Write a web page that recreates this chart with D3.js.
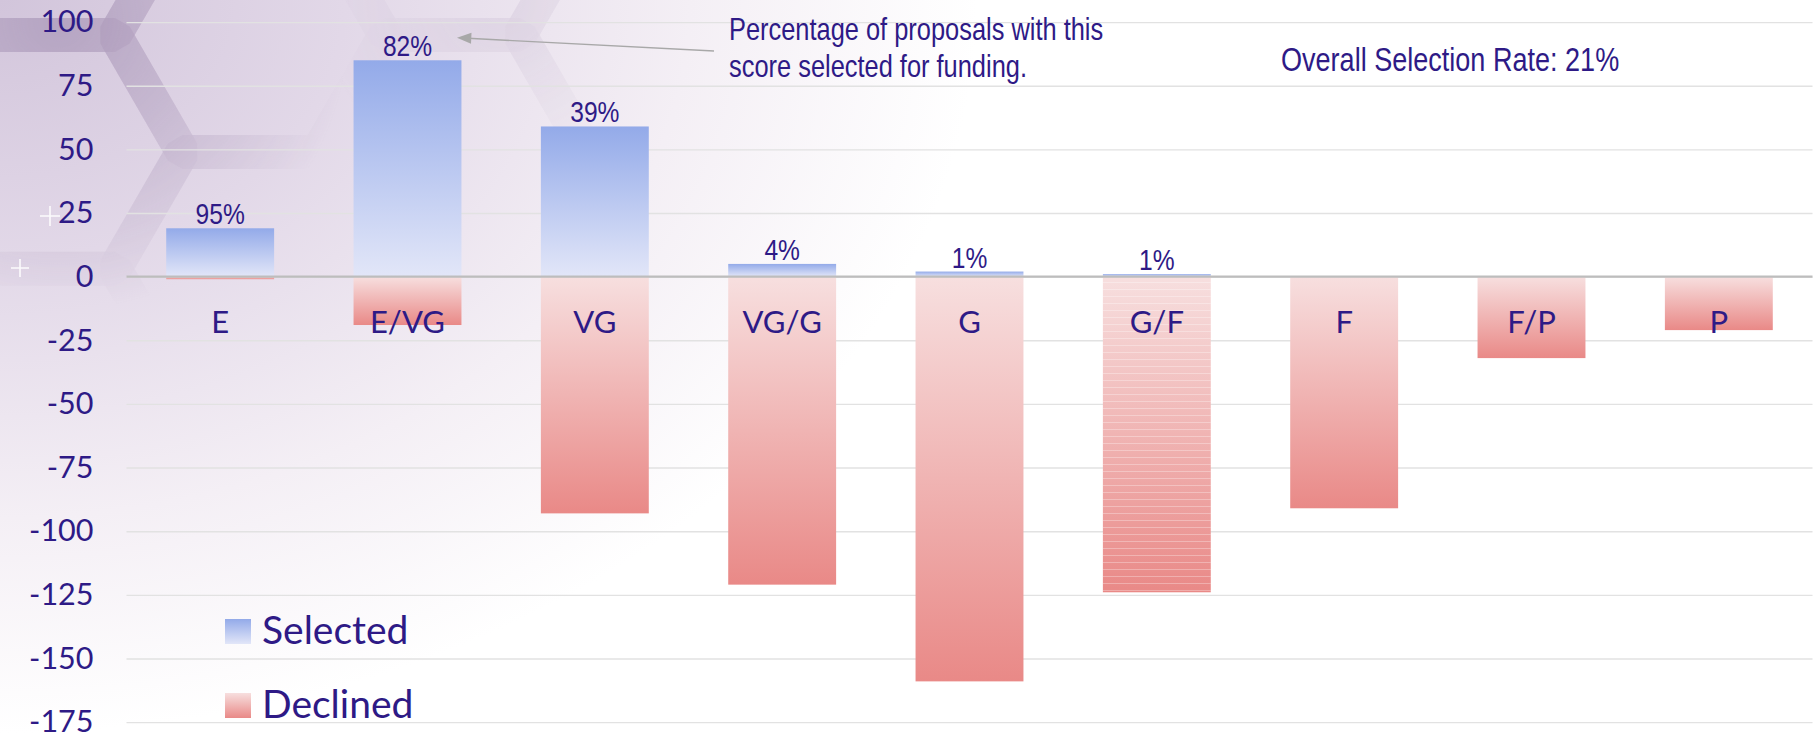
<!DOCTYPE html>
<html>
<head>
<meta charset="utf-8">
<script src="https://cdn.jsdelivr.net/npm/d3@7"></script>
<style>
  html, body { margin: 0; padding: 0; background: #ffffff; }
  svg { display: block; }
</style>
</head>
<body>
<div id="chart"></div>
<script>
// score categories and proposal counts
var categories = ["E", "E/VG", "VG", "VG/G", "G", "G/F", "F", "F/P", "P"];
var selected = [19, 85, 59, 5, 2, 1, 0, 0, 0];
var declined = [-1, -19, -93, -121, -159, -124, -91, -32, -21];
var yTicks = [100, 75, 50, 25, 0, -25, -50, -75, -100, -125, -150, -175];
var legendLabels = ["Selected", "Declined"];
var noteLines = ["Percentage of proposals with this", "score selected for funding."];
var stripedCategory = "G/F";

var W = 1814, H = 735;
var ink = "#2e1a86";
var calibri = "Lato, 'Open Sans', sans-serif";

var svg = d3.select("#chart").append("svg").attr("width", W).attr("height", H);
var defs = svg.append("defs");

// background gradient
var bg = defs.append("radialGradient").attr("id", "bg")
    .attr("gradientUnits", "userSpaceOnUse")
    .attr("cx", 0).attr("cy", 0).attr("r", 1150)
    .attr("gradientTransform", "scale(1,0.75)");
bg.append("stop").attr("offset", 0).attr("stop-color", "#d2c5db");
bg.append("stop").attr("offset", 0.3).attr("stop-color", "#e2d8e8");
bg.append("stop").attr("offset", 0.6).attr("stop-color", "#f4eff5");
bg.append("stop").attr("offset", 0.85).attr("stop-color", "#ffffff");

var fade = defs.append("radialGradient").attr("id", "fade")
    .attr("gradientUnits", "userSpaceOnUse")
    .attr("cx", 60).attr("cy", 20).attr("r", 290);
fade.append("stop").attr("offset", 0).attr("stop-color", "#fff");
fade.append("stop").attr("offset", 0.45).attr("stop-color", "#999");
fade.append("stop").attr("offset", 1).attr("stop-color", "#000");
defs.append("mask").attr("id", "hexmask")
    .append("rect").attr("width", W).attr("height", H).attr("fill", "url(#fade)");

var fade2 = defs.append("radialGradient").attr("id", "fade2")
    .attr("gradientUnits", "userSpaceOnUse")
    .attr("cx", 500).attr("cy", 0).attr("r", 180);
fade2.append("stop").attr("offset", 0).attr("stop-color", "#444");
fade2.append("stop").attr("offset", 1).attr("stop-color", "#000");
defs.append("mask").attr("id", "hexmask2")
    .append("rect").attr("width", W).attr("height", H).attr("fill", "url(#fade2)");

function barGradient(id, c0, c1) {
  var g = defs.append("linearGradient").attr("id", id)
      .attr("x1", 0).attr("y1", 0).attr("x2", 0).attr("y2", 1);
  g.append("stop").attr("offset", 0).attr("stop-color", c0);
  g.append("stop").attr("offset", 1).attr("stop-color", c1);
}
barGradient("gSel", "#93aae9", "#e2e6f8");
barGradient("gDec", "#f7dfdf", "#e98987");

var stripes = defs.append("pattern").attr("id", "stripes")
    .attr("patternUnits", "userSpaceOnUse").attr("width", 20).attr("height", 7);
stripes.append("rect").attr("y", 2).attr("width", 20).attr("height", 1)
    .attr("fill", "#ffffff").attr("opacity", 0.3);

svg.append("rect").attr("width", W).attr("height", H).attr("fill", "url(#bg)");

// honeycomb decoration in the top left corner
var side = 135, hexes = [];
for (var i = -1; i < 4; i++) {
  for (var j = -1; j < 3; j++) {
    var cx = 250 + 1.5 * side * i;
    var cy = 35 + Math.sqrt(3) * side * (j + (Math.abs(i) % 2 ? 0.5 : 0));
    hexes.push(d3.range(6).map(function (k) {
      var a = Math.PI / 3 * k;
      return [cx + side * Math.cos(a), cy + side * Math.sin(a)];
    }));
  }
}
function drawHexes(mask) {
  svg.append("g").attr("mask", "url(#" + mask + ")")
    .selectAll("path").data(hexes).join("path")
      .attr("d", function (d) { return "M" + d.join("L") + "Z"; })
      .attr("fill", "none")
      .attr("stroke", "#9c86aa")
      .attr("stroke-opacity", 0.32)
      .attr("stroke-width", 34)
      .attr("stroke-linejoin", "bevel");
}
drawHexes("hexmask");
drawHexes("hexmask2");

// little sparkles
[[20, 268, 9], [50, 216, 10]].forEach(function (s) {
  svg.append("path")
    .attr("d", "M" + (s[0] - s[2]) + "," + s[1] + "H" + (s[0] + s[2]) +
               "M" + s[0] + "," + (s[1] - s[2]) + "V" + (s[1] + s[2]))
    .attr("stroke", "#ffffff").attr("stroke-width", 1.6).attr("opacity", 0.9);
});

var x = d3.scaleBand().domain(categories).range([126.5, 1812.5])
    .paddingInner(0.424).paddingOuter(0.212);
var y = d3.scaleLinear().domain([-175, 100]).range([722.1, 22.1]);

// gridlines
svg.append("g").attr("transform", "translate(126.5,0)")
  .call(d3.axisLeft(y).tickValues(yTicks).tickSize(-(1812.5 - 126.5)).tickFormat(""))
  .call(function (g) { g.select(".domain").remove(); })
  .selectAll("line")
    .attr("stroke", "#e2e2e2").attr("stroke-width", 1.4);

// y tick labels
svg.append("g").attr("transform", "translate(126.5,0)")
  .call(d3.axisLeft(y).tickValues(yTicks).tickSize(0).tickPadding(33).tickFormat(String))
  .call(function (g) { g.select(".domain").remove(); })
  .selectAll("text")
    .attr("fill", ink)
    .attr("font-family", calibri)
    .attr("font-size", 30.5)
    .attr("dy", "0.32em");

var rows = categories.map(function (c, i) {
  return { cat: c, sel: selected[i], dec: declined[i] };
});

// bars
svg.append("g").selectAll("rect").data(rows).join("rect")
  .attr("x", function (d) { return x(d.cat); })
  .attr("width", x.bandwidth())
  .attr("y", function (d) { return y(d.sel); })
  .attr("height", function (d) { return y(0) - y(d.sel); })
  .attr("fill", "url(#gSel)");

var decBars = svg.append("g");
decBars.selectAll("rect").data(rows).join("rect")
  .attr("x", function (d) { return x(d.cat); })
  .attr("width", x.bandwidth())
  .attr("y", y(0))
  .attr("height", function (d) { return y(d.dec) - y(0); })
  .attr("fill", "url(#gDec)");
decBars.selectAll("rect.stripe").data(rows.filter(function (d) { return d.cat === stripedCategory; }))
  .join("rect").attr("class", "stripe")
  .attr("x", function (d) { return x(d.cat); })
  .attr("width", x.bandwidth())
  .attr("y", y(0))
  .attr("height", function (d) { return y(d.dec) - y(0); })
  .attr("fill", "url(#stripes)");

// zero line
svg.append("line")
  .attr("x1", 126.5).attr("x2", 1812.5)
  .attr("y1", y(0)).attr("y2", y(0))
  .attr("stroke", "#bdbdbd").attr("stroke-width", 2.2);

// narrow font helper (Arial Narrow look)
function hasFont(name) {
  var c = document.createElement("canvas").getContext("2d");
  c.font = "40px monospace";
  var a = c.measureText("Percentage of proposals").width;
  c.font = "40px '" + name + "', monospace";
  return c.measureText("Percentage of proposals").width !== a;
}
var narrowOk = hasFont("Liberation Sans Narrow");
function narrowText(parent, tx, ty, str, size, anchor) {
  var k = narrowOk ? 1 : 0.82;
  return parent.append("text")
    .attr("transform", "translate(" + tx + "," + ty + ") scale(" + k + ",1)")
    .attr("text-anchor", anchor || "start")
    .attr("font-family", narrowOk ? "'Liberation Sans Narrow'" : "'Liberation Sans', Arial, sans-serif")
    .attr("font-size", size)
    .attr("fill", ink)
    .text(str);
}

// percentage labels
var lbl = svg.append("g");
rows.forEach(function (d) {
  if (d.sel <= 0) return;
  var pct = Math.round(100 * d.sel / (d.sel - d.dec)) + "%";
  narrowText(lbl, x(d.cat) + x.bandwidth() / 2, y(d.sel) - 4, pct, 30, "middle");
});

// category labels
svg.append("g").selectAll("text").data(categories).join("text")
  .attr("x", function (d) { return x(d) + x.bandwidth() / 2; })
  .attr("y", 333)
  .attr("text-anchor", "middle")
  .attr("font-family", calibri)
  .attr("font-size", 31)
  .attr("fill", ink)
  .text(function (d) { return d; });

// annotation with arrow
noteLines.forEach(function (t, i) { narrowText(svg, 729, 40 + i * 37, t, 31); });
svg.append("line")
  .attr("x1", 714).attr("y1", 51).attr("x2", 468).attr("y2", 38.3)
  .attr("stroke", "#a8a8a8").attr("stroke-width", 1.4);
svg.append("path")
  .attr("d", "M457,37.7L471.5,32.8L471,43.8Z")
  .attr("fill", "#a8a8a8");

var totSel = d3.sum(selected), totDec = -d3.sum(declined);
narrowText(svg, 1281, 71, "Overall Selection Rate: " + Math.round(100 * totSel / (totSel + totDec)) + "%", 33);

// legend
var leg = svg.append("g").selectAll("g").data(legendLabels).join("g")
  .attr("transform", function (d, i) { return "translate(225," + (619 + i * 74) + ")"; });
leg.append("rect").attr("width", 26).attr("height", 25)
  .attr("fill", function (d, i) { return i === 0 ? "url(#gSel)" : "url(#gDec)"; });
leg.append("text").attr("x", 37).attr("y", 25)
  .attr("font-family", calibri).attr("font-size", 39).attr("fill", ink)
  .text(function (d) { return d; });
</script>
</body>
</html>
